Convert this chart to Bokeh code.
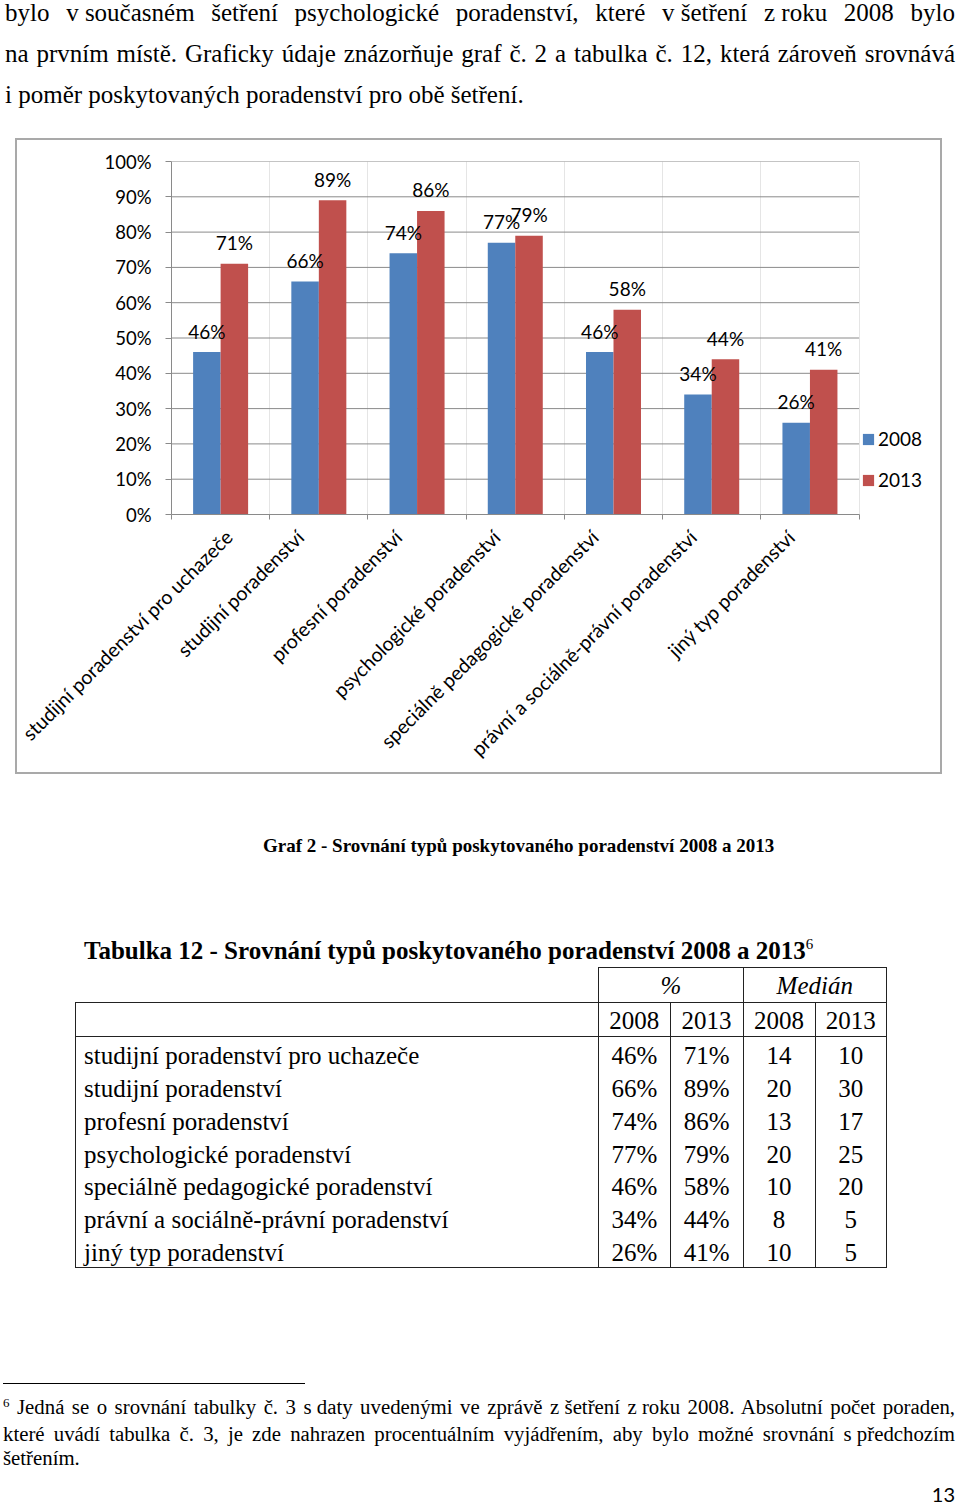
import math
from bokeh.plotting import figure
from bokeh.models import (ColumnDataSource, Range1d, FixedTicker,
                          NumeralTickFormatter, Legend, LegendItem, LinearAxis, Div)
from bokeh.layouts import column
from bokeh.transform import dodge
from bokeh.core.properties import value
from bokeh.embed import file_html
from bokeh.resources import INLINE

# ---------------- data ----------------
categories = [
    "studijní poradenství pro uchazeče",
    "studijní poradenství",
    "profesní poradenství",
    "psychologické poradenství",
    "speciálně pedagogické poradenství",
    "právní a sociálně-právní poradenství",
    "jiný typ poradenství",
]
pct_2008 = [46, 66, 74, 77, 46, 34, 26]
pct_2013 = [71, 89, 86, 79, 58, 44, 41]
median_2008 = [14, 20, 13, 20, 10, 8, 10]
median_2013 = [10, 30, 17, 25, 20, 5, 5]
years = ["2008", "2013"]
y_ticks = [0, 10, 20, 30, 40, 50, 60, 70, 80, 90, 100]

BLUE = "#4F81BD"
RED = "#C0504D"
GRID = "#8a8a8a"
CHART_FONT = "Lato"
SERIF = "'Liberation Serif','Times New Roman',serif"

# ---------------- chart ----------------
n = len(categories)
slot_centers = [i + 0.5 for i in range(n)]
src = ColumnDataSource(dict(
    x=slot_centers,
    v08=[v / 100 for v in pct_2008],
    v13=[v / 100 for v in pct_2013],
    t08=[f"{v}%" for v in pct_2008],
    t13=[f"{v}%" for v in pct_2013],
))

# plotting area: 684px for the 7 category slots + 85px on the right for the legend
SLOT_PX = 684 / n
FRAME_W = 769
x_end = FRAME_W / SLOT_PX

p = figure(x_range=Range1d(0, x_end), y_range=Range1d(0, 1),
           frame_width=FRAME_W, frame_height=349,
           output_backend="svg", toolbar_location=None,
           x_axis_location=None, min_border_left=154, min_border_right=0,
           min_border_top=21, min_border_bottom=262, margin=(0, 0, 0, 15))
p.outline_line_color = None
p.background_fill_color = "white"
p.border_fill_color = None
p.styles = {"border": "2px solid #a9a9a9"}
p.ygrid.visible = False

# horizontal gridlines spanning only the category slots
grid_src = ColumnDataSource(dict(y=[t / 100 for t in y_ticks[1:]],
                                 x0=[0] * (len(y_ticks) - 1),
                                 x1=[n] * (len(y_ticks) - 1)))
p.segment(x0="x0", x1="x1", y0="y", y1="y", source=grid_src,
          line_color=GRID, line_width=1)

r08 = p.vbar(x=dodge("x", -0.14), top="v08", width=0.28,
             source=src, fill_color=BLUE, line_color=None)
r13 = p.vbar(x=dodge("x", 0.14), top="v13", width=0.28,
             source=src, fill_color=RED, line_color=None)

for col, txt, off in (("v08", "t08", -0.14), ("v13", "t13", 0.14)):
    p.text(x=dodge("x", off), y=col, text=txt, source=src,
           text_align="center", text_baseline="middle", y_offset=-21,
           text_font=value(CHART_FONT), text_font_size="19px", text_color="#000000")

# y axis
p.yaxis.ticker = FixedTicker(ticks=[t / 100 for t in y_ticks])
p.yaxis.formatter = NumeralTickFormatter(format="0%")
p.yaxis.axis_line_color = GRID
p.yaxis.major_tick_line_color = GRID
p.yaxis.major_tick_out = 6
p.yaxis.major_tick_in = 0
p.yaxis.minor_tick_line_color = None
p.yaxis.major_label_text_font = CHART_FONT
p.yaxis.major_label_text_font_size = "18.5px"
p.yaxis.major_label_text_color = "#000000"
p.yaxis.major_label_standoff = 14

# x axis: ticks on category boundaries + rotated category labels
tick_axis = LinearAxis(ticker=FixedTicker(ticks=list(range(n + 1))), bounds=(0, n),
                       axis_line_color=GRID, major_tick_line_color=GRID,
                       major_tick_out=5, major_tick_in=0, minor_tick_line_color=None,
                       major_label_text_font_size="1px", major_label_text_alpha=0,
                       major_label_standoff=0)
p.add_layout(tick_axis, "below")
label_pos = [c - 0.19 for c in slot_centers]   # nudge so label ends sit like the original
cat_axis = LinearAxis(ticker=FixedTicker(ticks=label_pos),
                      major_label_overrides={c: lab for c, lab in zip(label_pos, categories)},
                      axis_line_color=None, major_tick_line_color=None,
                      minor_tick_line_color=None,
                      major_label_orientation=math.pi / 4,
                      major_label_text_font=CHART_FONT,
                      major_label_text_font_size="19.6px",
                      major_label_text_color="#000000",
                      major_label_standoff=8)
p.add_layout(cat_axis, "below")

legend = Legend(items=[LegendItem(label=years[0], renderers=[r08]),
                       LegendItem(label=years[1], renderers=[r13])],
                location=(690, 23), orientation="vertical",
                glyph_width=14, glyph_height=14, label_height=20,
                label_standoff=3, spacing=18, padding=0, margin=0,
                border_line_color=None, background_fill_color=None,
                label_text_font=CHART_FONT, label_text_font_size="19px",
                label_text_color="#000000")
p.add_layout(legend)

# ---------------- text around ----------------
def ib(s):
    return f'<span style="display:inline-block">{s}</span>'

J = "text-align:justify;text-align-last:justify;"
top_html = (
    f'<div style="position:relative;top:-8px;left:5px;width:950px;font-family:{SERIF};'
    f'font-size:25px;line-height:41px;color:#000;">'
    f'<div style="{J}">bylo {ib("v&nbsp;současném")} šetření psychologické poradenství, '
    f'které {ib("v&nbsp;šetření")} {ib("z&nbsp;roku")} 2008 bylo</div>'
    f'<div style="{J}">na prvním místě. Graficky údaje znázorňuje graf č. 2 a tabulka č. 12, '
    f'která zároveň srovnává</div>'
    f'<div style="text-align:left;">i poměr poskytovaných poradenství pro obě šetření.</div>'
    f'</div>'
)
div_top = Div(text=top_html, width=960, height=138, margin=0)

B = "1px solid #222"
H1, H2, HB = 33.4, 33.6, 32.8
widths = [523, 71.6, 73, 72, 71.4]
rows = []
rows.append(
    f'<tr style="height:{H1}px">'
    f'<td style="border:none;padding:0"></td>'
    f'<td colspan="2" style="border:{B};padding:3px 0 0 0;line-height:{H1-3}px;'
    f'text-align:center;font-style:italic">%</td>'
    f'<td colspan="2" style="border:{B};padding:3px 0 0 0;line-height:{H1-3}px;'
    f'text-align:center;font-style:italic">Medián</td></tr>')
hdr = "".join(
    f'<td style="border:{B};padding:2px 0 0 0;line-height:{H2-2}px;text-align:center">{y}</td>'
    for y in years + years)
rows.append(f'<tr style="height:{H2}px"><td style="border:{B};padding:0"></td>{hdr}</tr>')
for i in range(n):
    bb = B if i == n - 1 else "none"
    base = f"border-left:{B};border-right:{B};border-top:none;border-bottom:{bb};" \
           f"padding:5px 0 0 0;line-height:{HB-5}px;"
    vals = [f"{pct_2008[i]}%", f"{pct_2013[i]}%", str(median_2008[i]), str(median_2013[i])]
    cells = f'<td style="{base}padding-left:8px;text-align:left;white-space:nowrap">{categories[i]}</td>'
    cells += "".join(f'<td style="{base}text-align:center">{v}</td>' for v in vals)
    rows.append(f'<tr style="height:{HB}px">{cells}</tr>')
colgroup = "<colgroup>" + "".join(f'<col style="width:{w}px">' for w in widths) + "</colgroup>"
table_html = (
    f'<table style="position:absolute;left:75px;top:193.3px;border-collapse:collapse;'
    f'table-layout:fixed;width:{sum(widths)}px;font-family:{SERIF};font-size:25px;color:#000">'
    f'{colgroup}{"".join(rows)}</table>')

bottom_html = (
    f'<div style="position:relative;width:960px;height:732px;font-family:{SERIF};color:#000">'
    f'<div style="position:absolute;left:263px;top:61px;font-weight:bold;font-size:19px;'
    f'line-height:22px;white-space:nowrap">Graf 2 - Srovnání typů poskytovaného poradenství 2008 a 2013</div>'
    f'<div style="position:absolute;left:84px;top:162px;font-weight:bold;font-size:25px;'
    f'line-height:30px;white-space:nowrap">Tabulka 12 - Srovnání typů poskytovaného poradenství '
    f'2008 a 2013<span style="font-size:15px;position:relative;top:-10px;font-weight:normal">6</span></div>'
    f'{table_html}'
    f'<div style="position:absolute;left:3px;top:609px;width:302px;height:0;border-top:1.3px solid #000"></div>'
    f'<div style="position:absolute;left:3px;top:621px;width:952px;font-size:20.8px;line-height:24px">'
    f'<div style="{J}"><span style="font-size:13px;position:relative;top:-7px">6</span> Jedná se o srovnání '
    f'tabulky č. 3 {ib("s&nbsp;daty")} uvedenými ve zprávě {ib("z&nbsp;šetření")} {ib("z&nbsp;roku")} 2008. '
    f'Absolutní počet poraden,</div>'
    f'<div style="{J}">které uvádí tabulka č. 3, je zde nahrazen procentuálním vyjádřením, aby bylo '
    f'možné srovnání {ib("s&nbsp;předchozím")}</div>'
    f'<div style="text-align:left">šetřením.</div></div>'
    f'<div style="position:absolute;left:895px;top:710px;width:60px;text-align:right;'
    f'font-family:Lato,sans-serif;font-size:20px;line-height:20px">13</div>'
    f'</div>'
)
div_bottom = Div(text=bottom_html, width=960, height=732, margin=0)

layout = column(div_top, p, div_bottom, spacing=0)
open("out.html", "w").write(file_html(layout, INLINE))
